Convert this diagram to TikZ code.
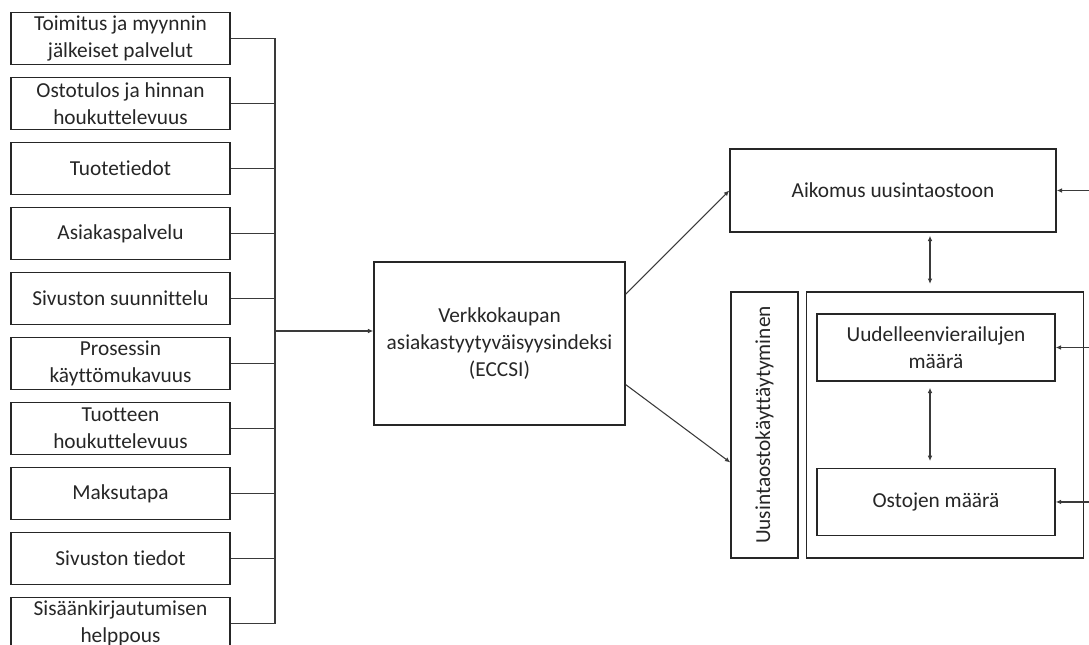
\documentclass[tikz,border=0pt]{standalone}
\usepackage{fontspec}
\setmainfont{Carlito}[Ligatures={NoCommon}]
\usepackage{tikz}
\usetikzlibrary{arrows.meta,positioning,calc}
\definecolor{diagInk}{HTML}{262626}
\definecolor{diagLine}{HTML}{3A3A3A}
\tikzset{
  diagBox/.style={
    draw=diagInk,
    line width=1.1pt,
    align=center,
    inner sep=1.5pt,
    text=diagInk
  },
  factorBox/.style={diagBox, minimum width=164.25pt, minimum height=39pt},
  diagLink/.style={draw=diagLine, line width=0.8pt},
  diagArrow/.style={diagLink, -{Latex[length=4pt,width=3.5pt]}},
  diagBoth/.style={diagLink, {Latex[length=4pt,width=3.5pt]}-{Latex[length=4pt,width=3.5pt]}}
}

\begin{document}
\begin{tikzpicture}[x=0.75pt, y=-0.75pt, font=\fontsize{16}{20.25}\selectfont,
    node distance=8.65pt]
    \useasboundingbox (0,0) rectangle (1089,645);

    % satisfaction factors
    \node[factorBox] (f1) at (120.5,38.5) {Toimitus ja myynnin\\jälkeiset palvelut};
    \node[factorBox, below=of f1] (f2) {Ostotulos ja hinnan\\houkuttelevuus};
    \node[factorBox, below=of f2] (f3) {Tuotetiedot};
    \node[factorBox, below=of f3] (f4) {Asiakaspalvelu};
    \node[factorBox, below=of f4] (f5) {Sivuston suunnittelu};
    \node[factorBox, below=of f5] (f6) {Prosessin\\käyttömukavuus};
    \node[factorBox, below=of f6] (f7) {Tuotteen\\houkuttelevuus};
    \node[factorBox, below=of f7] (f8) {Maksutapa};
    \node[factorBox, below=of f8] (f9) {Sivuston tiedot};
    \node[factorBox, below=of f9] (f10) {Sisäänkirjautumisen\\helppous};

    \coordinate (bus) at (275,0);
    \draw[diagLink] (f1.east) -- (f1.east -| bus);
    \draw[diagLink] (f2.east) -- (f2.east -| bus);
    \draw[diagLink] (f3.east) -- (f3.east -| bus);
    \draw[diagLink] (f4.east) -- (f4.east -| bus);
    \draw[diagLink] (f5.east) -- (f5.east -| bus);
    \draw[diagLink] (f6.east) -- (f6.east -| bus);
    \draw[diagLink] (f7.east) -- (f7.east -| bus);
    \draw[diagLink] (f8.east) -- (f8.east -| bus);
    \draw[diagLink] (f9.east) -- (f9.east -| bus);
    \draw[diagLink] (f10.east) -- (f10.east -| bus);
    \draw[diagLink] (f1.east -| bus) -- (f10.east -| bus);

    % index and outcomes
    \node[diagBox, minimum width=188.25pt, minimum height=122.25pt] (eccsi)
      at (499.5,343.5) {Verkkokaupan\\asiakastyytyväisyysindeksi\\(ECCSI)};
    \coordinate (busMid) at ($(f1.east -| bus)!0.5!(f10.east -| bus)$);
    \draw[diagArrow] (busMid) -- (busMid -| eccsi.west);

    \node[diagBox, minimum width=244.5pt, minimum height=62.25pt] (intent)
      at (893,190.5) {Aikomus uusintaostoon};
    \node[diagBox, minimum width=50.25pt, minimum height=199.5pt] (behav)
      at (764.5,425) {};
    \node[rotate=90, text=diagInk] (behavText) at (behav.center)
      {Uusintaostokäyttäytyminen};
    \node[diagBox, right=5.25pt of behav, minimum width=207.75pt,
      minimum height=199.5pt] (measures) {};
    \node[diagBox, minimum width=178.5pt, minimum height=50.25pt] (visits)
      at (936,347.5) {Uudelleenvierailujen\\määrä};
    \node[diagBox, below=64.5pt of visits, minimum width=178.5pt,
      minimum height=50.25pt] (purchases) {Ostojen määrä};

    \draw[diagArrow] ($(eccsi.north east)!0.2!(eccsi.south east)$) -- (intent.west);
    \draw[diagArrow] ($(eccsi.north east)!0.75!(eccsi.south east)$)
      -- ($(behav.north west)!0.64!(behav.south west)$);

    \coordinate (vlink) at (930,0);
    \draw[diagBoth, shorten <=2.25pt, shorten >=5.5pt]
      (intent.south -| vlink) -- (measures.north -| vlink);
    \draw[diagBoth, shorten <=4.5pt, shorten >=5pt]
      (visits.south -| vlink) -- (purchases.north -| vlink);

    % inputs entering from the right
    \coordinate (rightEdge) at (1092,0);
    \draw[diagArrow] (intent.east -| rightEdge) -- (intent.east);
    \draw[diagArrow] (visits.east -| rightEdge) -- (visits.east);
    \draw[diagArrow] (purchases.east -| rightEdge) -- (purchases.east);
  \end{tikzpicture}
\end{document}
